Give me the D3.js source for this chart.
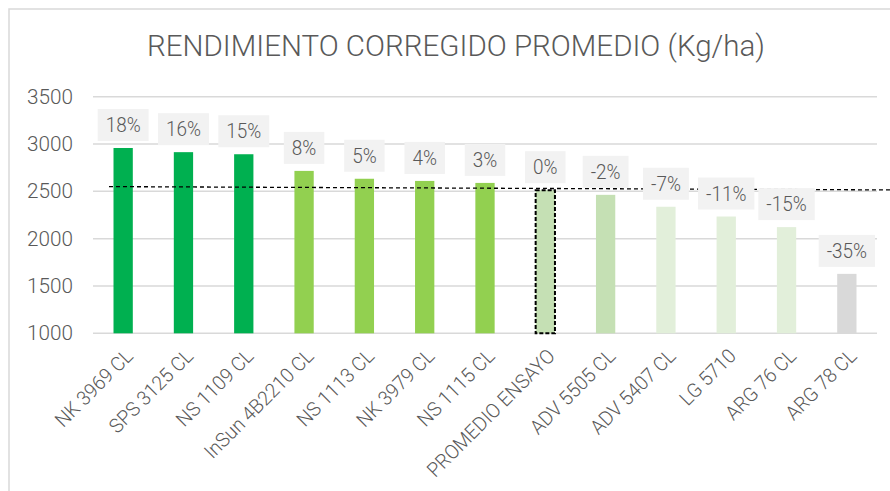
<!DOCTYPE html>
<html lang="es">
<head>
<meta charset="utf-8" />
<title>Rendimiento corregido promedio</title>
<script src="https://d3js.org/d3.v7.min.js"></script>
<style>
  body { margin: 0; background: #fff; }
  text { font-family: Roboto, "Noto Sans", sans-serif; font-weight: 300; fill: #595959; }
</style>
</head>
<body>
<script>
// data
const hybrids = ["NK 3969 CL", "SPS 3125 CL", "NS 1109 CL", "InSun 4B2210 CL", "NS 1113 CL",
  "NK 3979 CL", "NS 1115 CL", "PROMEDIO ENSAYO", "ADV 5505 CL", "ADV 5407 CL",
  "LG 5710", "ARG 76 CL", "ARG 78 CL"];
const yields = [2958, 2914, 2892, 2716, 2633, 2610, 2589, 2512, 2463, 2337, 2234, 2122, 1628];
const diffLabels = ["18%", "16%", "15%", "8%", "5%", "4%", "3%", "0%", "-2%", "-7%", "-11%", "-15%", "-35%"];
const barColors = ["#00b050", "#00b050", "#00b050", "#92d050", "#92d050", "#92d050", "#92d050",
  "#c5e0b4", "#c5e0b4", "#e2efda", "#e2efda", "#e2efda", "#d9d9d9"];
const yTicks = [1000, 1500, 2000, 2500, 3000, 3500];
// hand drawn dashed reference line (band position, value)
const refLine = [[0.265, 2550], [13.22, 2515]];

const W = 890, H = 491;
const mLeft = 93, mRight = 877, mTop = 96.7, mBottom = 333.3;

const svg = d3.select("body").append("svg")
  .attr("width", W).attr("height", H);

// chart frame
svg.append("rect")
  .attr("x", 9).attr("y", 9).attr("width", 900).attr("height", 500)
  .attr("fill", "none").attr("stroke", "#d9d9d9").attr("stroke-width", 1.5);

svg.append("text")
  .attr("x", 456).attr("y", 56)
  .attr("text-anchor", "middle")
  .style("font-size", "29px")
  .attr("textLength", 618).attr("lengthAdjust", "spacingAndGlyphs")
  .text("RENDIMIENTO CORREGIDO PROMEDIO (Kg/ha)");

const x = d3.scaleBand().domain(hybrids).range([mLeft, mRight]).paddingInner(0.68).paddingOuter(0.34);
const y = d3.scaleLinear().domain([1000, 3500]).range([mBottom, mTop]);
const xPos = d3.scaleLinear().domain([0, hybrids.length]).range([mLeft, mRight]);

// gridlines
svg.append("g").selectAll("line").data(yTicks).enter().append("line")
  .attr("x1", mLeft).attr("x2", mRight)
  .attr("y1", d => y(d)).attr("y2", d => y(d))
  .attr("stroke", "#d9d9d9").attr("stroke-width", 1.5);

// y axis labels
const yAxis = d3.axisLeft(y).tickValues(yTicks).tickSize(0).tickPadding(0).tickFormat(d3.format("d"));
const ya = svg.append("g").attr("transform", "translate(73,0)").call(yAxis)
  .attr("font-family", null).attr("font-size", null);
ya.select(".domain").remove();
ya.selectAll("text").style("font-size", "20px").attr("fill", "#595959")
  .attr("textLength", 46).attr("lengthAdjust", "spacingAndGlyphs");

// bars
svg.append("g").selectAll("rect").data(hybrids).enter().append("rect")
  .attr("x", d => x(d))
  .attr("y", (d, i) => y(yields[i]))
  .attr("width", x.bandwidth())
  .attr("height", (d, i) => y(1000) - y(yields[i]))
  .attr("fill", (d, i) => barColors[i])
  .attr("stroke", (d, i) => d === "PROMEDIO ENSAYO" ? "#000" : "none")
  .attr("stroke-width", 2)
  .attr("stroke-dasharray", "4,2");

// dashed reference line
svg.append("line")
  .attr("x1", xPos(refLine[0][0])).attr("y1", y(refLine[0][1]))
  .attr("x2", xPos(refLine[1][0])).attr("y2", y(refLine[1][1]))
  .attr("stroke", "#000").attr("stroke-width", 1.3).attr("stroke-dasharray", "4,3");

// data labels with boxes
const lab = svg.append("g").selectAll("g").data(hybrids).enter().append("g")
  .attr("transform", (d, i) => `translate(${x(d) + x.bandwidth() / 2},${y(yields[i]) - 7})`);
lab.append("rect");
lab.append("text")
  .attr("text-anchor", "middle")
  .attr("y", -9)
  .style("font-size", "21px")
  .text((d, i) => diffLabels[i])
  .each(function () {
    const w = this.getComputedTextLength() * 0.9;
    d3.select(this).attr("textLength", w).attr("lengthAdjust", "spacingAndGlyphs");
    d3.select(this.parentNode).select("rect")
      .attr("x", -w / 2 - 8).attr("y", -32)
      .attr("width", w + 16).attr("height", 32)
      .attr("fill", "#f2f2f2");
  });

// x labels
svg.append("g").selectAll("text").data(hybrids).enter().append("text")
  .attr("transform", d => `translate(${x(d) + x.bandwidth() / 2 + 6},${mBottom + 19}) rotate(-45)`)
  .attr("text-anchor", "end")
  .attr("dy", "0.35em")
  .style("font-size", "20px")
  .text(d => d)
  .each(function () {
    const w = this.getComputedTextLength() * 0.96;
    d3.select(this).attr("textLength", w).attr("lengthAdjust", "spacingAndGlyphs");
  });
</script>
</body>
</html>
